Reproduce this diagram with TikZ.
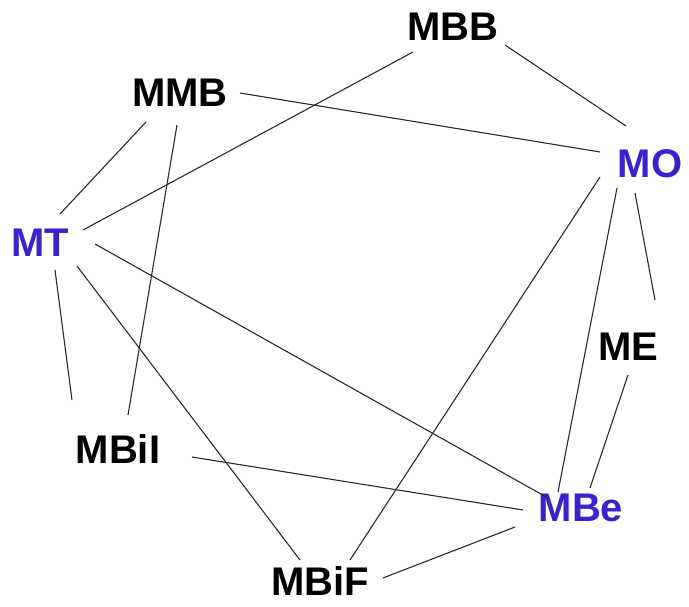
\documentclass[tikz,border=0pt]{standalone}
\usepackage{fontspec}
\setmainfont{Liberation Sans}
\definecolor{nodeblue}{HTML}{3A23CC}
\definecolor{edgegray}{HTML}{2A2A2A}
\begin{document}
\begin{tikzpicture}[x=1pt,y=-1pt,
  lbl/.style={inner sep=0pt,font=\fontsize{40}{42}\selectfont\bfseries,text=black},
  blbl/.style={lbl,text=nodeblue},
  edge/.style={draw=edgegray,line width=1.1pt}]
\useasboundingbox (0,0) rectangle (689,607);
\node[lbl] (MBB) at (453,27) {MBB};
\node[lbl] (MMB) at (180,93) {MMB};
\node[blbl] (MO) at (650,164) {MO};
\node[blbl] (MT) at (40,243) {MT};
\node[lbl] (ME) at (628,347) {ME};
\node[lbl] (MBiI) at (118,449) {MBiI};
\node[blbl] (MBe) at (581,508) {MBe};
\node[lbl] (MBiF) at (320,581) {MBiF};
\newcommand{\ed}[4]{\draw[edge] ([shift={#2}]#1.center) -- ([shift={#4}]#3.center);}
\ed{MBB}{(-40,25)}{MT}{(43,-13)}
\ed{MBB}{(52,18)}{MO}{(-24,-38)}
\ed{MMB}{(60,0)}{MO}{(-50,-12)}
\ed{MMB}{(-34,29)}{MT}{(20,-29)}
\ed{MMB}{(-3,32)}{MBiI}{(10,-34)}
\ed{MT}{(15,27)}{MBiI}{(-46,-49)}
\ed{MT}{(55,1)}{MBe}{(-33,-10)}
\ed{MT}{(37,23)}{MBiF}{(-20,-21)}
\ed{MO}{(-15,29)}{ME}{(27,-47)}
\ed{MO}{(-33,24)}{MBe}{(-23,-16)}
\ed{MO}{(-50,13)}{MBiF}{(30,-21)}
\ed{ME}{(0,28)}{MBe}{(9,-20)}
\ed{MBiI}{(74,8)}{MBe}{(-58,2)}
\ed{MBe}{(-66,19)}{MBiF}{(63,-3)}
\end{tikzpicture}
\end{document}
